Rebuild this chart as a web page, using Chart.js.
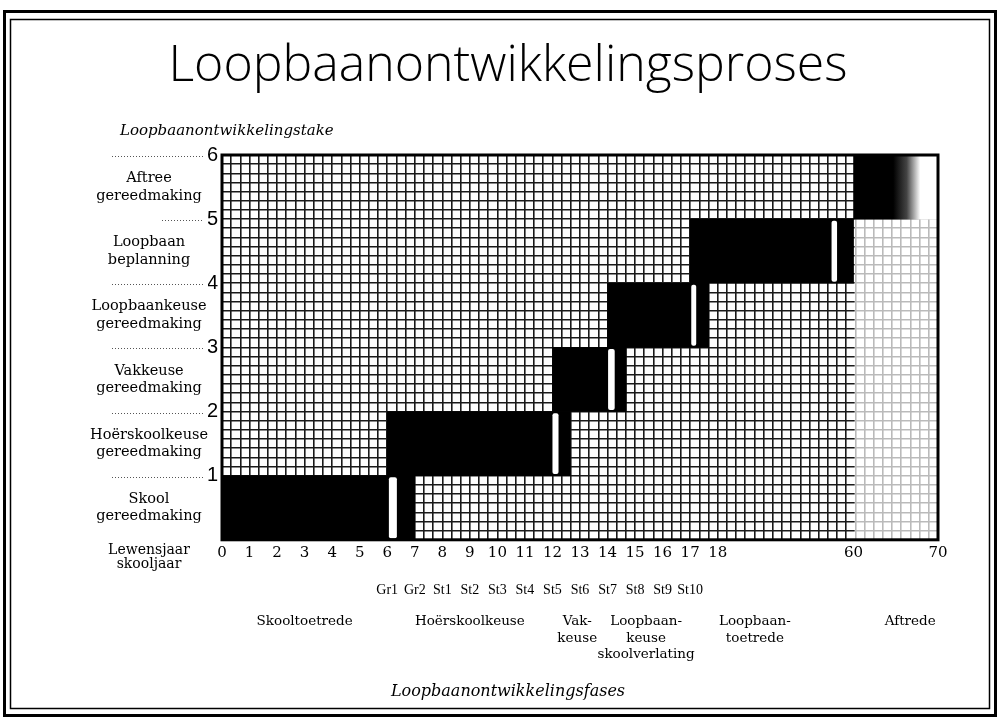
<!DOCTYPE html>
<html>
<head>
<meta charset="utf-8">
<title>Loopbaanontwikkelingsproses</title>
<script src="https://cdn.jsdelivr.net/npm/chart.js@4.4.1/dist/chart.umd.min.js"></script>
<style>
    html, body { margin: 0; padding: 0; background: #fff; }
    #wrap { width: 999px; height: 720px; }
</style>
</head>
<body>
<div id="wrap"><canvas id="myChart" width="999" height="720"></canvas></div>
<script>
/* data */

// stages, from the bottom up
var stageLabels = [
    ['Skool', 'gereedmaking'],
    ['Hoërskoolkeuse', 'gereedmaking'],
    ['Vakkeuse', 'gereedmaking'],
    ['Loopbaankeuse', 'gereedmaking'],
    ['Loopbaan', 'beplanning'],
    ['Aftree', 'gereedmaking']
];
// black block of each stage, [from, to] in years
var stageBlocks = [[0, 7], [6, 12.65], [12, 14.68], [14, 17.67], [17, 60], [60, 70]];
// white transition stripe inside each block
var stageStripes = [[6.06, 6.35], [12.0, 12.22], [14.02, 14.26], [17.04, 17.22], [53.2, 54.9], null];

var yearTicks = [0, 1, 2, 3, 4, 5, 6, 7, 8, 9, 10, 11, 12, 13, 14, 15, 16, 17, 18, 60, 70];
var gradeTicks = [6, 7, 8, 9, 10, 11, 12, 13, 14, 15, 16, 17];
var gradeLabels = ['Gr1', 'Gr2', 'St1', 'St2', 'St3', 'St4', 'St5', 'St6', 'St7', 'St8', 'St9', 'St10'];
var phaseTicks = [3.0, 9.0, 12.9, 15.4, 29.5, 66.7];
var phaseLabels = [
    ['Skooltoetrede'],
    ['Hoërskoolkeuse'],
    ['Vak-', 'keuse'],
    ['Loopbaan-', 'keuse', 'skoolverlating'],
    ['Loopbaan-', 'toetrede'],
    ['Aftrede']
];
var levelTicks = [1, 2, 3, 4, 5, 6];

// retirement area (dotted grid) and fade of the last block
var retireFrom = 60, retireTo = 70, retireTop = 5;
var fadeFrom = 64.7, fadeTo = 67.9;

/* broken year axis: 0-18 wide, 18-60 squeezed, 60-70 */
var breakYears = [0, 18, 60, 70];
var breakCells = [0, 54, 68.8, 78];

function yearToCell(v) {
    for (var i = 1; i < breakYears.length; i++) {
        if (v <= breakYears[i] || i === breakYears.length - 1) {
            var t = (v - breakYears[i - 1]) / (breakYears[i] - breakYears[i - 1]);
            return breakCells[i - 1] + t * (breakCells[i] - breakCells[i - 1]);
        }
    }
}
function cellToYear(c) {
    for (var i = 1; i < breakCells.length; i++) {
        if (c <= breakCells[i] || i === breakCells.length - 1) {
            var t = (c - breakCells[i - 1]) / (breakCells[i] - breakCells[i - 1]);
            return breakYears[i - 1] + t * (breakYears[i] - breakYears[i - 1]);
        }
    }
}

class BreakScale extends Chart.LinearScale {
    getPixelForValue(value) {
        if (value === null || value === undefined) return NaN;
        return this.getPixelForDecimal(yearToCell(value) / breakCells[breakCells.length - 1]);
    }
    getValueForPixel(pixel) {
        return cellToYear(this.getDecimalForPixel(pixel) * breakCells[breakCells.length - 1]);
    }
}
BreakScale.id = 'break';
BreakScale.defaults = {};
Chart.register(BreakScale);

function fixTicks(list) {
    return function (axis) {
        axis.ticks = list.map(function (v) { return { value: v }; });
    };
}

var serif = 'DejaVu Serif';

/* frame, leaders and loose texts */
var framePlugin = {
    id: 'frame',
    beforeDraw: function (chart) {
        var ctx = chart.ctx;
        ctx.save();
        ctx.fillStyle = '#fff';
        ctx.fillRect(0, 0, chart.width, chart.height);
        ctx.strokeStyle = '#000';
        ctx.lineWidth = 3;
        ctx.strokeRect(4.5, 11.5, 991, 704);
        ctx.lineWidth = 1.5;
        ctx.strokeRect(10.5, 19.5, 979, 689);
        ctx.restore();
    },
    beforeDatasetsDraw: function (chart) {
        // lighten the grid in the retirement years
        var ctx = chart.ctx, x = chart.scales.x, yn = chart.scales.yn;
        var l = x.getPixelForValue(retireFrom), r = x.getPixelForValue(retireTo);
        var t = yn.getPixelForValue(retireTop), b = yn.getPixelForValue(0);
        ctx.save();
        ctx.fillStyle = 'rgba(255,255,255,0.7)';
        ctx.fillRect(l + 1, t, r - l - 1, b - t);
        ctx.restore();
    },
    afterDatasetsDraw: function (chart) {
        var ctx = chart.ctx, a = chart.chartArea, yn = chart.scales.yn, x = chart.scales.x;
        ctx.save();
        ctx.strokeStyle = '#000';
        ctx.lineWidth = 3;
        ctx.strokeRect(a.left, a.top, a.right - a.left, a.bottom - a.top);

        // dotted leaders to the level numbers
        ctx.lineWidth = 1;
        ctx.strokeStyle = '#555';
        ctx.setLineDash([1, 2]);
        levelTicks.forEach(function (v) {
            var y = Math.round(yn.getPixelForValue(v)) + 1.5;
            ctx.beginPath();
            ctx.moveTo(v === 5 ? 162 : 112, y);
            ctx.lineTo(a.left - 18, y);
            ctx.stroke();
        });
        ctx.setLineDash([]);

        ctx.fillStyle = '#000';
        ctx.textAlign = 'center';
        ctx.textBaseline = 'middle';
        ctx.font = '14px "' + serif + '"';
        ctx.fillText('Lewensjaar', a.left - 73, x.top + 11);
        ctx.fillText('skooljaar', a.left - 73, x.top + 25);

        ctx.textAlign = 'left';
        ctx.font = 'italic 15px "' + serif + '"';
        ctx.fillText('Loopbaanontwikkelingstake', a.left - 102, a.top - 24);
        ctx.restore();
    }
};

var ctx = document.getElementById('myChart').getContext('2d');

var myChart = new Chart(ctx, {
    type: 'bar',
    data: {
        labels: stageLabels,
        datasets: [{
            label: 'Oorgang',
            data: stageStripes,
            xAxisID: 'x',
            yAxisID: 'yc',
            backgroundColor: '#fff',
            borderRadius: 2,
            borderSkipped: false,
            barPercentage: 0.95,
            categoryPercentage: 1,
            grouped: false,
            order: 0
        }, {
            label: 'Fase',
            data: stageBlocks,
            xAxisID: 'x',
            yAxisID: 'yc',
            backgroundColor: function (c) {
                if (c.dataIndex !== stageBlocks.length - 1 || !c.chart.chartArea) return '#000';
                var sx = c.chart.scales.x;
                var g = c.chart.ctx.createLinearGradient(sx.getPixelForValue(fadeFrom), 0, sx.getPixelForValue(fadeTo), 0);
                g.addColorStop(0, '#000');
                g.addColorStop(0.5, '#444');
                g.addColorStop(1, '#fff');
                return g;
            },
            barPercentage: 1,
            categoryPercentage: 1,
            grouped: false,
            order: 1
        }]
    },
    options: {
        indexAxis: 'y',
        responsive: false,
        animation: false,
        layout: {
            padding: { left: 78, right: 61, top: 0, bottom: 0 }
        },
        scales: {
            x: {
                type: 'break',
                position: 'bottom',
                min: 0,
                max: 70,
                weight: 0,
                afterBuildTicks: fixTicks(yearTicks),
                afterFit: function (axis) { axis.height = 30; },
                grid: { display: false, drawTicks: false },
                border: { display: false },
                ticks: {
                    autoSkip: false,
                    maxRotation: 0,
                    padding: 4,
                    color: '#000',
                    font: { family: serif, size: 15 },
                    callback: function (v, i) { return String(yearTicks[i]); }
                }
            },
            xs: {
                type: 'break',
                position: 'bottom',
                min: 0,
                max: 70,
                weight: 1,
                afterBuildTicks: fixTicks(gradeTicks),
                afterFit: function (axis) { axis.height = 32; },
                grid: { display: false, drawTicks: false },
                border: { display: false },
                ticks: {
                    autoSkip: false,
                    maxRotation: 0,
                    padding: 12,
                    color: '#000',
                    font: { family: 'Liberation Serif', size: 14 },
                    callback: function (v, i) { return gradeLabels[i]; }
                }
            },
            xf: {
                type: 'break',
                position: 'bottom',
                min: 0,
                max: 70,
                weight: 2,
                afterBuildTicks: fixTicks(phaseTicks),
                afterFit: function (axis) { axis.height = 61; },
                grid: { display: false, drawTicks: false },
                border: { display: false },
                ticks: {
                    autoSkip: false,
                    maxRotation: 0,
                    padding: 12,
                    color: '#000',
                    font: { family: serif, size: 13.5 },
                    callback: function (v, i) { return phaseLabels[i]; }
                }
            },
            xg: {
                type: 'linear',
                position: 'top',
                min: 0,
                max: 78,
                ticks: { display: false, stepSize: 1 },
                grid: { color: '#1a1a1a', lineWidth: 1.6, drawTicks: false },
                border: { display: false }
            },
            yn: {
                type: 'linear',
                position: 'left',
                min: 0,
                max: 6,
                offset: false,
                weight: 0,
                afterFit: function (axis) { axis.width = 14; },
                grid: { display: false, drawTicks: false, offset: false },
                border: { display: false },
                ticks: {
                    stepSize: 1,
                    padding: 4,
                    color: '#000',
                    font: { family: 'Liberation Sans', size: 20 },
                    callback: function (v) { return v === 0 ? '' : v; }
                }
            },
            yc: {
                type: 'category',
                position: 'left',
                reverse: true,
                weight: 1,
                afterFit: function (axis) { axis.width = 130; },
                grid: { display: false, drawTicks: false },
                border: { display: false },
                ticks: {
                    padding: 0,
                    crossAlign: 'center',
                    color: '#000',
                    font: { family: serif, size: 14.5 }
                }
            },
            yg: {
                type: 'linear',
                position: 'right',
                min: 0,
                max: 42,
                offset: false,
                ticks: { display: false, stepSize: 1 },
                grid: { color: '#1a1a1a', lineWidth: 1.6, drawTicks: false, offset: false },
                border: { display: false }
            }
        },
        plugins: {
            legend: { display: false },
            tooltip: { enabled: false },
            title: {
                display: true,
                text: 'Loopbaanontwikkelingsproses',
                color: '#000',
                font: { family: 'Open Sans', size: 50, weight: 300 },
                padding: { top: 37, bottom: 58 }
            },
            subtitle: {
                display: true,
                position: 'bottom',
                text: 'Loopbaanontwikkelingsfases',
                color: '#000',
                font: { family: serif, size: 16, style: 'italic', weight: 'normal' },
                padding: { top: 19, bottom: 19 }
            }
        }
    },
    plugins: [framePlugin]
});
</script>
</body>
</html>
